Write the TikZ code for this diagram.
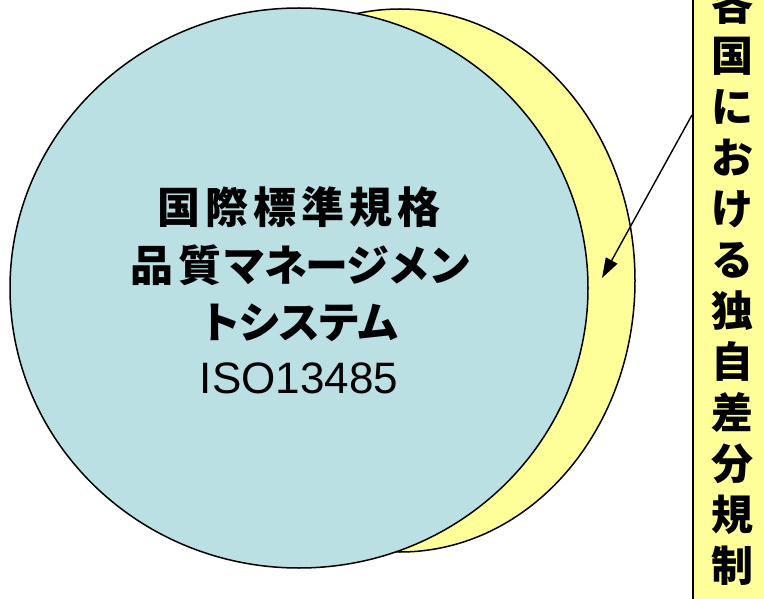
\documentclass[tikz,border=0pt]{standalone}
\usepackage{fontspec}
\setmainfont{Liberation Sans}
\newfontfamily\jp{Noto Sans CJK JP}
\usetikzlibrary{shapes.geometric,arrows.meta}
\definecolor{tealfill}{RGB}{187,224,227}
\definecolor{yelfill}{RGB}{255,255,153}
\newcommand\kbox[1]{\makebox[48pt]{#1}}
\newcommand\kkbox[1]{\makebox[41pt]{#1}}
\newcommand\kcbox[1]{\makebox[39.5pt]{#1}}
\tikzset{
  outline/.style={draw=black,line width=1.5pt},
  circtext/.style={anchor=base,inner sep=0pt,font=\jp\bfseries\fontsize{43}{48}\selectfont},
  isotext/.style={anchor=base,inner sep=0pt,font=\fontsize{44}{50}\selectfont},
  vtext/.style={align=center,inner sep=0pt,font=\jp\bfseries\fontsize{42}{51}\selectfont},
  pointer/.style={draw=black,line width=1.4pt,-{Triangle[length=20pt,width=13pt]}}
}
\begin{document}
\begin{tikzpicture}[x=1pt,y=-1pt]
\useasboundingbox (0,0) rectangle (764,599);
\clip (0,0) rectangle (764,599);
\node[outline,fill=yelfill,ellipse,inner sep=0pt,minimum width=470pt,minimum height=543pt] (ylw) at (400,280.5) {};
\node[outline,fill=tealfill,ellipse,inner sep=0pt,minimum width=578pt,minimum height=560pt] (iso) at (299,288) {};
\node[circtext] (t1) at (299,224) {\kbox{国}\kbox{際}\kbox{標}\kbox{準}\kbox{規}\kbox{格}};
\node[circtext] (t2) at (299,282) {\kbox{品}\kbox{質}\kkbox{マ}\kkbox{ネ}\kkbox{ー}\kkbox{ジ}\kkbox{メ}\kkbox{ン}};
\node[circtext] (t3) at (299,338) {\kcbox{ト}\kcbox{シ}\kcbox{ス}\kcbox{テ}\kcbox{ム}};
\node[isotext] (t4) at (299,393) {ISO13485};
\node[outline,fill=yelfill,inner sep=0pt,minimum width=140pt,minimum height=660pt,anchor=north west] (regbox) at (692,-30) {};
\node[vtext] (vlabel) at (732,284.5) {各\\国\\に\\お\\け\\る\\独\\自\\差\\分\\規\\制};
\coordinate (astart) at (692,115);
\coordinate (atip) at (602,278);
\draw[pointer] (astart) -- (atip);
\end{tikzpicture}
\end{document}
